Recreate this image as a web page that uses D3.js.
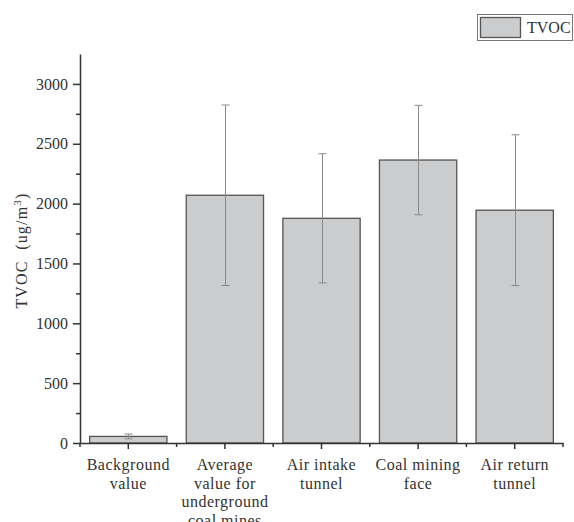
<!DOCTYPE html>
<html>
<head>
<meta charset="utf-8">
<script src="https://cdn.jsdelivr.net/npm/d3@7.9.0/dist/d3.min.js"></script>
<style>
  body { margin: 0; background: #fff; }
  svg text { font-family: "Liberation Serif", "DejaVu Serif", serif; fill: #333; }
</style>
</head>
<body>
<svg id="chart" width="574" height="522"></svg>
<script>
const categories = [
  ['Background', 'value'],
  ['Average', 'value for', 'underground', 'coal mines'],
  ['Air intake', 'tunnel'],
  ['Coal mining', 'face'],
  ['Air return', 'tunnel']
];
const means = [55, 2070, 1877, 2364, 1945];
const errors = [20, 754, 540, 457, 630];
const yTicks = [0, 500, 1000, 1500, 2000, 2500, 3000];

const svg = d3.select('#chart');
const margin = { left: 80, right: 11, top: 54, bottom: 79 };
const width = 574 - margin.left - margin.right;
const height = 522 - margin.top - margin.bottom;

const g = svg.append('g').attr('transform', `translate(${margin.left},${margin.top})`);

const x = d3.scaleBand().domain(d3.range(categories.length)).range([0, width]).paddingInner(0.2).paddingOuter(0.1);
const xOuter = d3.scaleBand().domain(d3.range(categories.length)).range([0, width]);
const y = d3.scaleLinear().domain([0, 3250]).range([height, 0]);

// bars
g.selectAll('rect.bar')
  .data(means)
  .join('rect')
  .attr('class', 'bar')
  .attr('x', (d, i) => x(i))
  .attr('width', x.bandwidth())
  .attr('y', (d) => y(d))
  .attr('height', (d) => height - y(d))
  .attr('fill', '#cbccce')
  .attr('stroke', '#555')
  .attr('stroke-width', 1.3);

// error bars
const errG = g.append('g').attr('stroke', '#8a8a8a').attr('stroke-width', 1);
means.forEach((m, i) => {
  const cx = Math.round(x(i) + x.bandwidth() / 2) + 0.5;
  const top = y(m + errors[i]);
  const bot = y(Math.max(0, m - errors[i]));
  errG.append('line').attr('x1', cx).attr('x2', cx).attr('y1', top).attr('y2', bot);
  errG.append('line').attr('x1', cx - 4).attr('x2', cx + 4).attr('y1', top).attr('y2', top);
  errG.append('line').attr('x1', cx - 4).attr('x2', cx + 4).attr('y1', bot).attr('y2', bot);
});

// y axis
const yAxis = g.append('g')
  .call(d3.axisLeft(y).tickValues(yTicks).tickSize(7).tickPadding(5).tickFormat(d3.format('d')).tickSizeOuter(0));
g.append('g')
  .call(d3.axisLeft(y).tickValues(d3.range(250, 3250, 500)).tickSize(4).tickFormat('').tickSizeOuter(0))
  .select('.domain').remove();
yAxis.selectAll('text').style('font-size', '16px').style('font-family', '"Liberation Serif", serif');

// x axis
g.append('g').attr('transform', `translate(0,${height})`)
  .call(d3.axisBottom(x).tickSize(6).tickFormat('').tickSizeOuter(0));
g.append('g').attr('transform', `translate(0,${height})`)
  .selectAll('line.minor')
  .data(d3.range(categories.length + 1))
  .join('line')
  .attr('class', 'minor')
  .attr('x1', (d) => d * xOuter.step())
  .attr('x2', (d) => d * xOuter.step())
  .attr('y1', 0)
  .attr('y2', 4)
  .attr('stroke', '#333')
  .attr('stroke-width', 1.5);

g.selectAll('.domain, .tick line').attr('stroke', '#333').attr('stroke-width', 1.5);

// category labels
const labG = g.append('g').attr('transform', `translate(0,${height})`);
categories.forEach((lines, i) => {
  const t = labG.append('text')
    .attr('x', x(i) + x.bandwidth() / 2)
    .attr('y', 27)
    .attr('text-anchor', 'middle')
    .style('font-size', '16px')
    .style('letter-spacing', '0.5px');
  lines.forEach((ln, j) => {
    t.append('tspan').attr('x', x(i) + x.bandwidth() / 2).attr('dy', j === 0 ? 0 : 18.5).text(ln);
  });
});

// y label
const yl = svg.append('text')
  .attr('transform', `translate(27,${margin.top + height / 2 + 2}) rotate(-90)`)
  .attr('text-anchor', 'middle')
  .style('font-size', '16px')
  .style('letter-spacing', '1.2px')
  .attr('xml:space', 'preserve');
yl.append('tspan').text('TVOC  (ug/m');
yl.append('tspan').attr('dy', -6).style('font-size', '11px').text('3');
yl.append('tspan').attr('dy', 6).text(')');

// legend
const lg = svg.append('g');
lg.append('rect').attr('x', 477.5).attr('y', 14.5).attr('width', 95).attr('height', 26)
  .attr('fill', '#fff').attr('stroke', '#777').attr('stroke-width', 1);
lg.append('rect').attr('x', 480.5).attr('y', 17.5).attr('width', 40).attr('height', 20)
  .attr('fill', '#cbccce').attr('stroke', '#555').attr('stroke-width', 1.3);
lg.append('text').attr('x', 527).attr('y', 33).style('font-size', '16px').text('TVOC');
</script>
</body>
</html>
